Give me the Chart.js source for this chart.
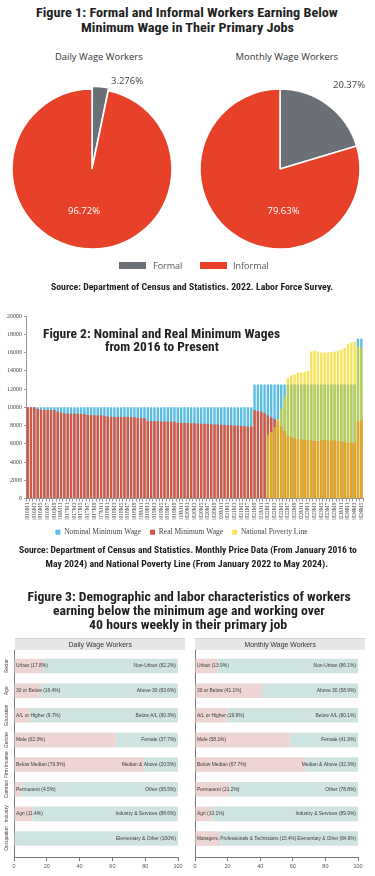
<!DOCTYPE html>
<html><head><meta charset="utf-8">
<script src="https://cdn.jsdelivr.net/npm/chart.js@4.4.1/dist/chart.umd.min.js"></script>
<style>
html,body{margin:0;padding:0;background:#fff;}
body{width:375px;height:876px;position:relative;overflow:hidden;}
canvas{position:absolute;}
.t{position:absolute;white-space:nowrap;line-height:1;}
.hdr{position:absolute;background:#E6E6E6;border-top:1px solid #d4d4d4;}
</style></head><body>
<div class="hdr" style="left:15px;top:638px;width:170px;height:11px"></div>
<div class="hdr" style="left:195px;top:638px;width:170px;height:11px"></div>
<canvas id="pieDaily" width="180" height="200" style="left:2px;top:69px"></canvas>
<canvas id="pieMonthly" width="180" height="200" style="left:190px;top:69px"></canvas>
<canvas id="wages" width="375" height="240" style="left:0;top:306px"></canvas>
<canvas id="barDaily" width="190" height="236" style="left:0;top:640px"></canvas>
<canvas id="barMonthly" width="194" height="236" style="left:181px;top:640px"></canvas>
<script>
// ---------------- DATA ----------------
const pieCategories = ['Formal', 'Informal'];
const dailyShares = [3.276, 96.72];
const monthlyShares = [20.37, 79.63];

const months = [
 '2016M1','2016M2','2016M3','2016M4','2016M5','2016M6','2016M7','2016M8','2016M9','2016M10','2016M11','2016M12',
 '2017M1','2017M2','2017M3','2017M4','2017M5','2017M6','2017M7','2017M8','2017M9','2017M10','2017M11','2017M12',
 '2018M1','2018M2','2018M3','2018M4','2018M5','2018M6','2018M7','2018M8','2018M9','2018M10','2018M11','2018M12',
 '2019M1','2019M2','2019M3','2019M4','2019M5','2019M6','2019M7','2019M8','2019M9','2019M10','2019M11','2019M12',
 '2020M1','2020M2','2020M3','2020M4','2020M5','2020M6','2020M7','2020M8','2020M9','2020M10','2020M11','2020M12',
 '2021M1','2021M2','2021M3','2021M4','2021M5','2021M6','2021M7','2021M8','2021M9','2021M10','2021M11','2021M12',
 '2022M1','2022M2','2022M3','2022M4','2022M5','2022M6','2022M7','2022M8','2022M9','2022M10','2022M11','2022M12',
 '2023M1','2023M2','2023M3','2023M4','2023M5','2023M6','2023M7','2023M8','2023M9','2023M10','2023M11','2023M12',
 '2024M1','2024M2','2024M3','2024M4','2024M5'
];
const nominalWage = [
 10000,10000,10000,10000,10000,10000,10000,10000,10000,10000,10000,10000,
 10000,10000,10000,10000,10000,10000,10000,10000,10000,10000,10000,10000,
 10000,10000,10000,10000,10000,10000,10000,10000,10000,10000,10000,10000,
 10000,10000,10000,10000,10000,10000,10000,10000,10000,10000,10000,10000,
 10000,10000,10000,10000,10000,10000,10000,10000,10000,10000,10000,10000,
 10000,10000,10000,10000,10000,10000,10000,10000,12500,12500,12500,12500,
 12500,12500,12500,12500,12500,12500,12500,12500,12500,12500,12500,12500,
 12500,12500,12500,12500,12500,12500,12500,12500,12500,12500,12500,12500,
 12500,12500,12500,17500,17500
];
const realWage = [
 10000,10000,9990,9800,9720,9700,9690,9700,9710,9500,9420,9330,
 9300,9280,9300,9290,9270,9250,9150,9130,9120,9100,9110,9080,
 8980,8950,8940,8930,8920,8940,8950,8930,8900,8820,8800,8790,
 8500,8480,8470,8460,8450,8440,8430,8420,8410,8300,8290,8280,
 8270,8260,8250,8230,8200,8180,8160,8140,8120,8100,8080,8060,
 8040,8020,8000,7980,7950,7930,7900,7880,9670,9600,9500,9350,
 9100,8900,8700,8400,7900,7400,6900,6700,6600,6500,6500,6450,
 6400,6350,6300,6300,6350,6400,6400,6350,6350,6300,6250,6200,
 6100,6100,6150,8500,8550
];
const povertyLine = [
 null,null,null,null,null,null,null,null,null,null,null,null,
 null,null,null,null,null,null,null,null,null,null,null,null,
 null,null,null,null,null,null,null,null,null,null,null,null,
 null,null,null,null,null,null,null,null,null,null,null,null,
 null,null,null,null,null,null,null,null,null,null,null,null,
 null,null,null,null,null,null,null,null,null,null,null,null,
 7000,7300,7800,8700,9800,11200,13200,13500,13600,13800,13800,13900,
 14000,16100,16200,16100,16000,16000,16000,16050,16100,16200,16300,16500,
 16900,17100,17200,16700,16500
];
const wageTicks = [0,2000,4000,6000,8000,10000,12000,14000,16000,18000,20000];

const groups = ['Sector','Age','Education','Gender','Firm Income','Contract','Industry','Occupation'];
const firstLabels = ['Urban','30 or Below','A/L or Higher','Male','Below Median','Permanent','Agri','Managers, Professionals & Technicians'];
const secondLabels = ['Non-Urban','Above 30','Below A/L','Female','Median & Above','Other','Industry & Services','Elementary & Other'];
const dailyFirst = [17.8,16.4,9.7,62.3,79.5,4.5,11.4,0];
const dailySecond = [82.2,83.6,90.3,37.7,20.5,95.5,88.6,100];
const monthlyFirst = [13.9,41.1,19.9,58.1,67.7,21.2,10.1,15.4];
const monthlySecond = [86.1,58.9,80.1,41.9,32.3,78.8,89.9,84.6];
const shareTicks = [0,20,40,60,80,100];

// ---------------- STYLE ----------------
const TITLE_FONT = '"Liberation Sans Narrow","Roboto Condensed","Liberation Sans",Arial,sans-serif';
const pieColors = ['#6B6F76', '#E8412A'];
Chart.defaults.animation = false;

function addText(txt, cx, cy, o) {
  const el = document.createElement('div');
  el.className = 't';
  el.textContent = txt;
  el.style.font = o.font;
  el.style.color = o.color || '#1f1f1f';
  document.body.appendChild(el);
  const w = el.offsetWidth, h = el.offsetHeight;
  el.style.left = (o.align === 'left' ? cx : cx - w / 2) + 'px';
  el.style.top = (cy - h / 2) + 'px';
  if (o.width) {
    el.style.transformOrigin = o.align === 'left' ? 'left center' : 'center center';
    el.style.transform = 'scaleX(' + (o.width / w) + ')';
  }
  el.style.zIndex = 5;
  return el;
}

// Titles & sources
const tf = (s) => 'bold ' + s + 'px ' + TITLE_FONT;
addText('Figure 1: Formal and Informal Workers Earning Below', 187, 12, {font: tf(12.5), width: 302});
addText('Minimum Wage in Their Primary Jobs', 187, 27, {font: tf(12.5), width: 213});
addText('Daily Wage Workers', 99, 56, {font: '9px "Open Sans",sans-serif', color: '#333', width: 88});
addText('Monthly Wage Workers', 287, 56, {font: '9px "Open Sans",sans-serif', color: '#333', width: 103});
addText('Source: Department of Census and Statistics. 2022. Labor Force Survey.', 192, 287, {font: tf(9), width: 282});
addText('Figure 2: Nominal and Real Minimum Wages', 161.5, 334, {font: tf(12), width: 237});
addText('from 2016 to Present', 162, 347, {font: tf(12), width: 114});
addText('Source: Department of Census and Statistics. Monthly Price Data (From January 2016 to', 188, 549, {font: tf(9.5), width: 338});
addText('May 2024) and National Poverty Line (From January 2022 to May 2024).', 186.5, 563, {font: tf(9.5), width: 283});
addText('Figure 3: Demographic and labor characteristics of workers', 188.5, 597, {font: tf(12), width: 323});
addText('earning below the minimum age and working over', 189, 611, {font: tf(12), width: 272});
addText('40 hours weekly in their primary job', 188, 625, {font: tf(12), width: 198});
addText('Daily Wage Workers', 100, 644, {font: '7px "Liberation Sans",Arial,sans-serif', color: '#333', width: 63});
addText('Monthly Wage Workers', 280, 644, {font: '7px "Liberation Sans",Arial,sans-serif', color: '#333', width: 71});

// Figure 1 legend (HTML)
const legendSpots = [{box: 119, text: 153}, {box: 200, text: 233}];
pieCategories.forEach((c, i) => {
  const b = document.createElement('div');
  b.style.cssText = 'position:absolute;left:' + legendSpots[i].box + 'px;top:262px;width:27px;height:7px;background:' + pieColors[i];
  document.body.appendChild(b);
  addText(c, legendSpots[i].text, 265.5, {font: '9px "Open Sans",sans-serif', color: '#555', align: 'left'});
});

// ---------------- FIGURE 1 ----------------
const pieLabelPlugin = {
  id: 'pieLabels',
  afterDatasetsDraw(chart, args, opts) {
    const ctx = chart.ctx;
    const meta = chart.getDatasetMeta(0);
    const ds = chart.data.datasets[0];
    meta.data.forEach((arc, i) => {
      const p = opts.spots[i];
      ctx.save();
      ctx.font = '9.5px "Open Sans",sans-serif';
      ctx.fillStyle = p.color;
      ctx.textAlign = p.align;
      ctx.textBaseline = 'middle';
      ctx.fillText(ds.data[i].toPrecision(4) + '%', arc.x + p.dx, arc.y + p.dy);
      ctx.restore();
    });
  }
};
function makePie(id, shares, offsets, spots) {
  new Chart(document.getElementById(id), {
    type: 'pie',
    data: {labels: pieCategories, datasets: [{data: shares, backgroundColor: pieColors, borderColor: '#fff', borderWidth: 1.5, offset: offsets}]},
    options: {
      responsive: false, devicePixelRatio: 1, radius: 80,
      layout: {padding: 0},
      plugins: {legend: {display: false}, tooltip: {enabled: false},
        pieLabels: {spots: spots}}
    },
    plugins: [pieLabelPlugin]
  });
}
makePie('pieDaily', dailyShares, [6, 0], [
  {dx: 19, dy: -88, align: 'left', color: '#444'},
  {dx: -8, dy: 42, align: 'center', color: '#fff'}]);
makePie('pieMonthly', monthlyShares, [0, 0], [
  {dx: 53, dy: -84, align: 'left', color: '#444'},
  {dx: 3.5, dy: 42, align: 'center', color: '#fff'}]);

// ---------------- FIGURE 2 ----------------
const serif = '"Liberation Serif","Times New Roman",serif';
new Chart(document.getElementById('wages'), {
  type: 'bar',
  data: {labels: months, datasets: [
    {label: 'Nominal Minimum Wage', data: nominalWage, backgroundColor: '#5CBDE4', order: 3},
    {label: 'Real Minimum Wage', data: realWage, backgroundColor: '#D8563F', order: 2},
    {label: 'National Poverty Line', data: povertyLine, backgroundColor: 'rgba(240,212,0,0.65)', order: 1}
  ]},
  options: {
    responsive: false, devicePixelRatio: 1,
    datasets: {bar: {grouped: false, barPercentage: 0.72, categoryPercentage: 1}},
    layout: {padding: {top: 10, right: 12, left: 0, bottom: 0}},
    plugins: {
      tooltip: {enabled: false},
      legend: {position: 'bottom', labels: {boxWidth: 5, boxHeight: 5, padding: 9, color: '#444',
        font: {family: serif, size: 7.5}, sort: (a, b) => a.datasetIndex - b.datasetIndex}}
    },
    scales: {
      x: {
        grid: {display: true, drawOnChartArea: false, tickLength: 3, color: '#999'},
        border: {color: '#999'},
        ticks: {autoSkip: false, maxRotation: 90, minRotation: 90, padding: 1, color: '#444',
          font: {family: serif, size: 5.5},
          callback: (v, i) => (i % 2 === 0 ? months[i] : '')},
        afterFit: (s) => { s.height = 21; }
      },
      y: {
        min: 0, max: 20000,
        afterBuildTicks: (s) => { s.ticks = wageTicks.map(v => ({value: v})); },
        ticks: {color: '#444', padding: 2, font: {family: serif, size: 6}, callback: (v) => String(v)},
        grid: {display: true, drawOnChartArea: false, tickLength: 2, color: '#999'},
        border: {color: '#999'},
        afterFit: (s) => { s.width = 26; }
      }
    }
  }
});

// ---------------- FIGURE 3 ----------------
const panelLabelPlugin = {
  id: 'panelLabels',
  afterDatasetsDraw(chart, args, opts) {
    const ctx = chart.ctx, x = chart.scales.x, y = chart.scales.y;
    const d0 = chart.data.datasets[0].data, d1 = chart.data.datasets[1].data;
    ctx.save();
    ctx.fillStyle = '#3c3c3c';
    ctx.textBaseline = 'middle';
    const x0 = x.getPixelForValue(0) + 2, x1 = x.getPixelForValue(100) - 2;
    d0.forEach((pt, i) => {
      const py = y.getPixelForValue(pt.y);
      const v = d1[i].x;
      const t0 = pt.x > 0 ? firstLabels[i] + ' (' + pt.x + '%)' : '';
      const t1 = v > 0 ? secondLabels[i] + ' (' + v + '%)' : '';
      let size = 4.9;
      ctx.font = size + 'px "Liberation Sans",Arial,sans-serif';
      const need = ctx.measureText(t0).width + ctx.measureText(t1).width + 1;
      if (need > x1 - x0) { size = size * (x1 - x0) / need; ctx.font = size + 'px "Liberation Sans",Arial,sans-serif'; }
      if (t0) { ctx.textAlign = 'left'; ctx.fillText(t0, x0, py); }
      if (t1) { ctx.textAlign = 'right'; ctx.fillText(t1, x1, py); }
    });
    if (opts.showGroups) {
      ctx.font = '4.8px "Liberation Sans",Arial,sans-serif';
      ctx.fillStyle = '#444';
      ctx.textAlign = 'center';
      groups.forEach((g, i) => {
        ctx.save();
        ctx.translate(7, y.getPixelForValue(i));
        ctx.rotate(-Math.PI / 2);
        ctx.fillText(g, 0, 0);
        ctx.restore();
      });
    }
    ctx.restore();
  }
};
function makePanel(id, first, second, showGroups, padRight) {
  new Chart(document.getElementById(id), {
    type: 'bar',
    data: {datasets: [
      {label: 'first', data: first.map((v, i) => ({x: v, y: i})), backgroundColor: '#ECD5D3'},
      {label: 'second', data: second.map((v, i) => ({x: v, y: i})), backgroundColor: '#CFE4E0'}
    ]},
    options: {
      indexAxis: 'y', responsive: false, devicePixelRatio: 1,
      layout: {padding: {top: 10, right: padRight, left: 0, bottom: 0}},
      datasets: {bar: {barPercentage: 0.59, categoryPercentage: 1}},
      plugins: {legend: {display: false}, tooltip: {enabled: false}, panelLabels: {showGroups: showGroups}},
      scales: {
        x: {type: 'linear', stacked: true, min: 0, max: 100,
          afterBuildTicks: (s) => { s.ticks = shareTicks.map(v => ({value: v})); },
          ticks: {color: '#555', padding: 2, font: {family: '"Liberation Sans",Arial,sans-serif', size: 5.5}},
          grid: {drawOnChartArea: false, tickLength: 4, color: '#777'},
          border: {color: '#777'},
          afterFit: (s) => { s.height = 19; }},
        y: {type: 'linear', stacked: true, reverse: true, min: -0.65, max: 7.75, offset: false,
          afterBuildTicks: (s) => { s.ticks = groups.map((g, i) => ({value: i})); },
          ticks: {display: false}, grid: {display: false, offset: false}, border: {color: '#777'},
          afterFit: (s) => { s.width = 14; }}
      }
    },
    plugins: [panelLabelPlugin]
  });
}
makePanel('barDaily', dailyFirst, dailySecond, true, 12);
makePanel('barMonthly', monthlyFirst, monthlySecond, false, 17);
</script>
</body></html>
